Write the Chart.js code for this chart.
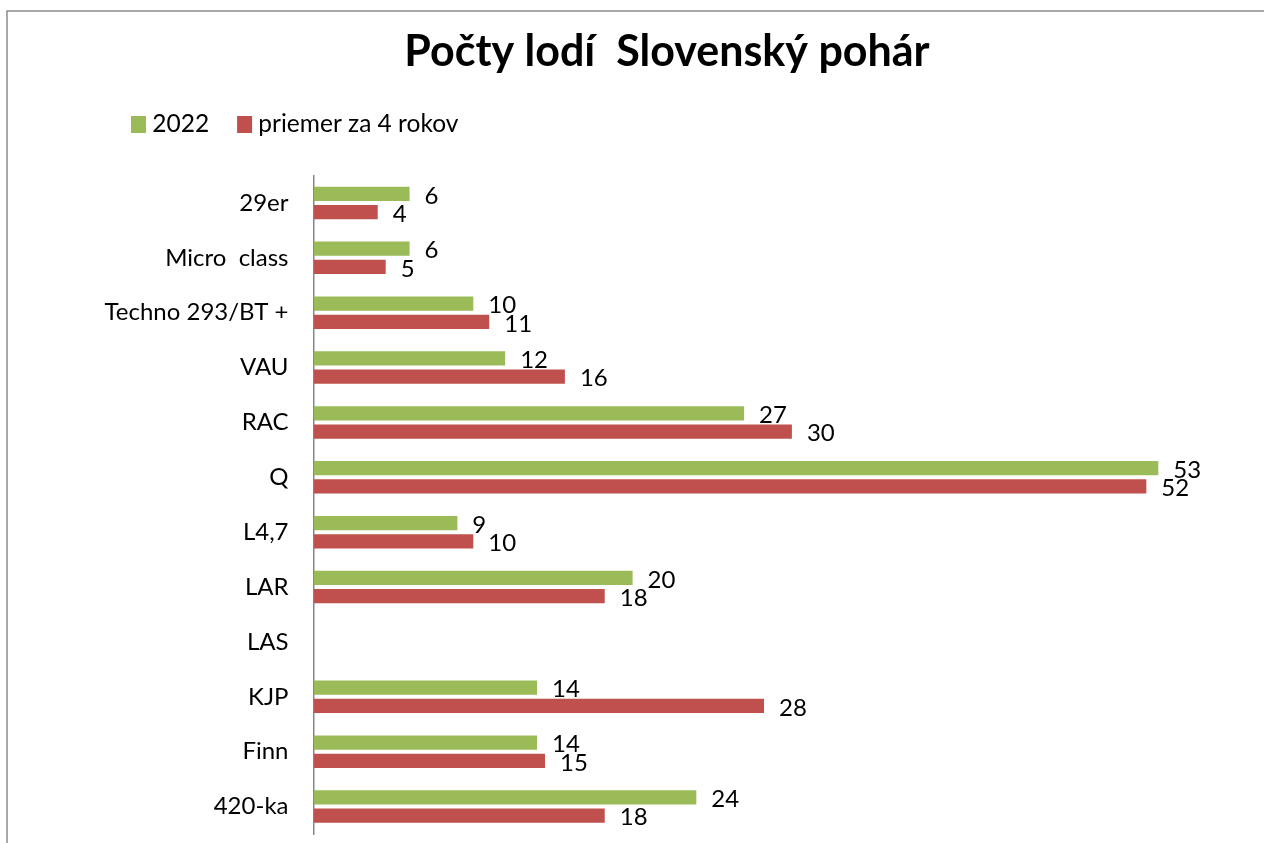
<!DOCTYPE html>
<html>
<head>
<meta charset="utf-8">
<script src="https://cdn.jsdelivr.net/npm/chart.js@4/dist/chart.umd.min.js"></script>
<style>
html,body{margin:0;padding:0;background:#fff;overflow:hidden;width:1264px;height:843px;}
canvas{display:block;}
</style>
</head>
<body>
<canvas id="c" width="1264" height="884"></canvas>
<script>
// ---- data ----
const categories = ['29er', 'Micro  class', 'Techno 293/BT +', 'VAU', 'RAC', 'Q', 'L4,7', 'LAR', 'LAS', 'KJP', 'Finn', '420-ka'];
const values2022 = [6, 6, 10, 12, 27, 53, 9, 20, null, 14, 14, 24];
const valuesAvg4 = [4, 4.5, 11, 15.75, 30, 52.25, 10, 18.25, null, 28.25, 14.5, 18.25];
const seriesNames = ['2022', 'priemer za 4 rokov'];
const titleText = 'Počty lodí  Slovenský pohár';

// ---- style / layout ----
const FONT = 'Lato';
const FS_TITLE = 43, FS_LEG = 24.5, FS_TICK = 24, FS_LABEL = 24;
const LEG_BOX_W = 3, LEG_LINE = 12, LEG_BOX_H = 5;
const axisLeft = 314, tickPad = 25.5, pxPerUnit = 15.93;

const mctx = document.createElement('canvas').getContext('2d');
mctx.font = FS_LEG + 'px ' + FONT;
const tw1 = mctx.measureText(seriesNames[0]).width;
mctx.font = FS_TICK + 'px ' + FONT;
const widestTick = Math.max(...categories.map(c => mctx.measureText(c).width));
const tickLeft = axisLeft - tickPad - widestTick;
let legPad = (232 - 131) - (LEG_BOX_W + FS_LEG / 2) - tw1;
let padL = 131 + LEG_LINE / 2 - legPad;
if (padL > tickLeft - 1) { padL = Math.floor(tickLeft - 1); legPad = 131 + LEG_LINE / 2 - padL; }
const padR = padL + 1264 - 2 * 667;
const xMax = (1264 - padR - axisLeft) / pxPerUnit;
const titleLH = FS_TITLE * 1.2;
const legTop = 124.5 - FS_LEG / 2 - legPad;
const titlePadTop = Math.min(54.5 - titleLH / 2, legTop - titleLH);
const titlePadBottom = Math.max(0, legTop - titlePadTop - titleLH);
const legBottom = titlePadTop + titleLH + titlePadBottom + legPad + FS_LEG + 10;
const topGap = 175.5 - legBottom;

const frame = {
  id: 'frame',
  beforeDraw(chart) {
    const ctx = chart.ctx;
    ctx.save();
    ctx.strokeStyle = '#8c8c8c';
    ctx.lineWidth = 1.5;
    ctx.beginPath();
    ctx.moveTo(7, chart.height + 5);
    ctx.lineTo(7, 11);
    ctx.lineTo(chart.width + 5, 11);
    ctx.stroke();
    ctx.restore();
  }
};

const valueLabels = {
  id: 'valueLabels',
  afterDatasetsDraw(chart) {
    const ctx = chart.ctx;
    ctx.save();
    ctx.font = FS_LABEL + 'px ' + FONT;
    ctx.fillStyle = '#000';
    ctx.textAlign = 'left';
    ctx.textBaseline = 'middle';
    chart.data.datasets.forEach((ds, i) => {
      const meta = chart.getDatasetMeta(i);
      meta.data.forEach((el, j) => {
        const v = ds.data[j];
        if (v === null || v === undefined) return;
        ctx.fillText(String(Math.round(v)), el.x + 15, el.y + 2);
      });
    });
    ctx.restore();
  }
};

new Chart(document.getElementById('c'), {
  type: 'bar',
  data: {
    labels: categories,
    datasets: [
      { label: seriesNames[0], data: values2022, backgroundColor: '#9BBB59', categoryPercentage: 0.668, barPercentage: 0.78 },
      { label: seriesNames[1], data: valuesAvg4, backgroundColor: '#C0504D', categoryPercentage: 0.668, barPercentage: 0.78 }
    ]
  },
  options: {
    indexAxis: 'y',
    responsive: false,
    animation: false,
    devicePixelRatio: 1,
    layout: { padding: { left: padL, right: padR, top: 0, bottom: 50 } },
    plugins: {
      title: {
        display: true,
        text: titleText,
        color: '#000',
        font: { family: FONT, size: FS_TITLE, weight: 'bold' },
        padding: { top: titlePadTop, bottom: titlePadBottom }
      },
      legend: {
        display: true,
        position: 'top',
        align: 'start',
        labels: {
          color: '#000',
          font: { family: FONT, size: FS_LEG },
          boxWidth: LEG_BOX_W,
          boxHeight: LEG_BOX_H,
          padding: legPad,
          generateLabels(chart) {
            const items = Chart.defaults.plugins.legend.labels.generateLabels(chart);
            items.forEach(it => { it.strokeStyle = it.fillStyle; it.lineWidth = LEG_LINE; it.lineJoin = 'miter'; });
            return items;
          }
        }
      },
      tooltip: { enabled: false }
    },
    scales: {
      x: {
        position: 'top',
        min: 0,
        max: xMax,
        grid: { display: false, drawTicks: true, tickLength: topGap },
        border: { display: false },
        ticks: { display: false }
      },
      y: {
        grid: { display: false, drawTicks: false },
        border: { display: true, color: '#878787', width: 1.5 },
        ticks: { color: '#000', padding: tickPad, font: { family: FONT, size: FS_TICK } },
        afterFit(scale) { scale.width = axisLeft - padL; }
      }
    }
  },
  plugins: [frame, valueLabels]
});
</script>
</body>
</html>
